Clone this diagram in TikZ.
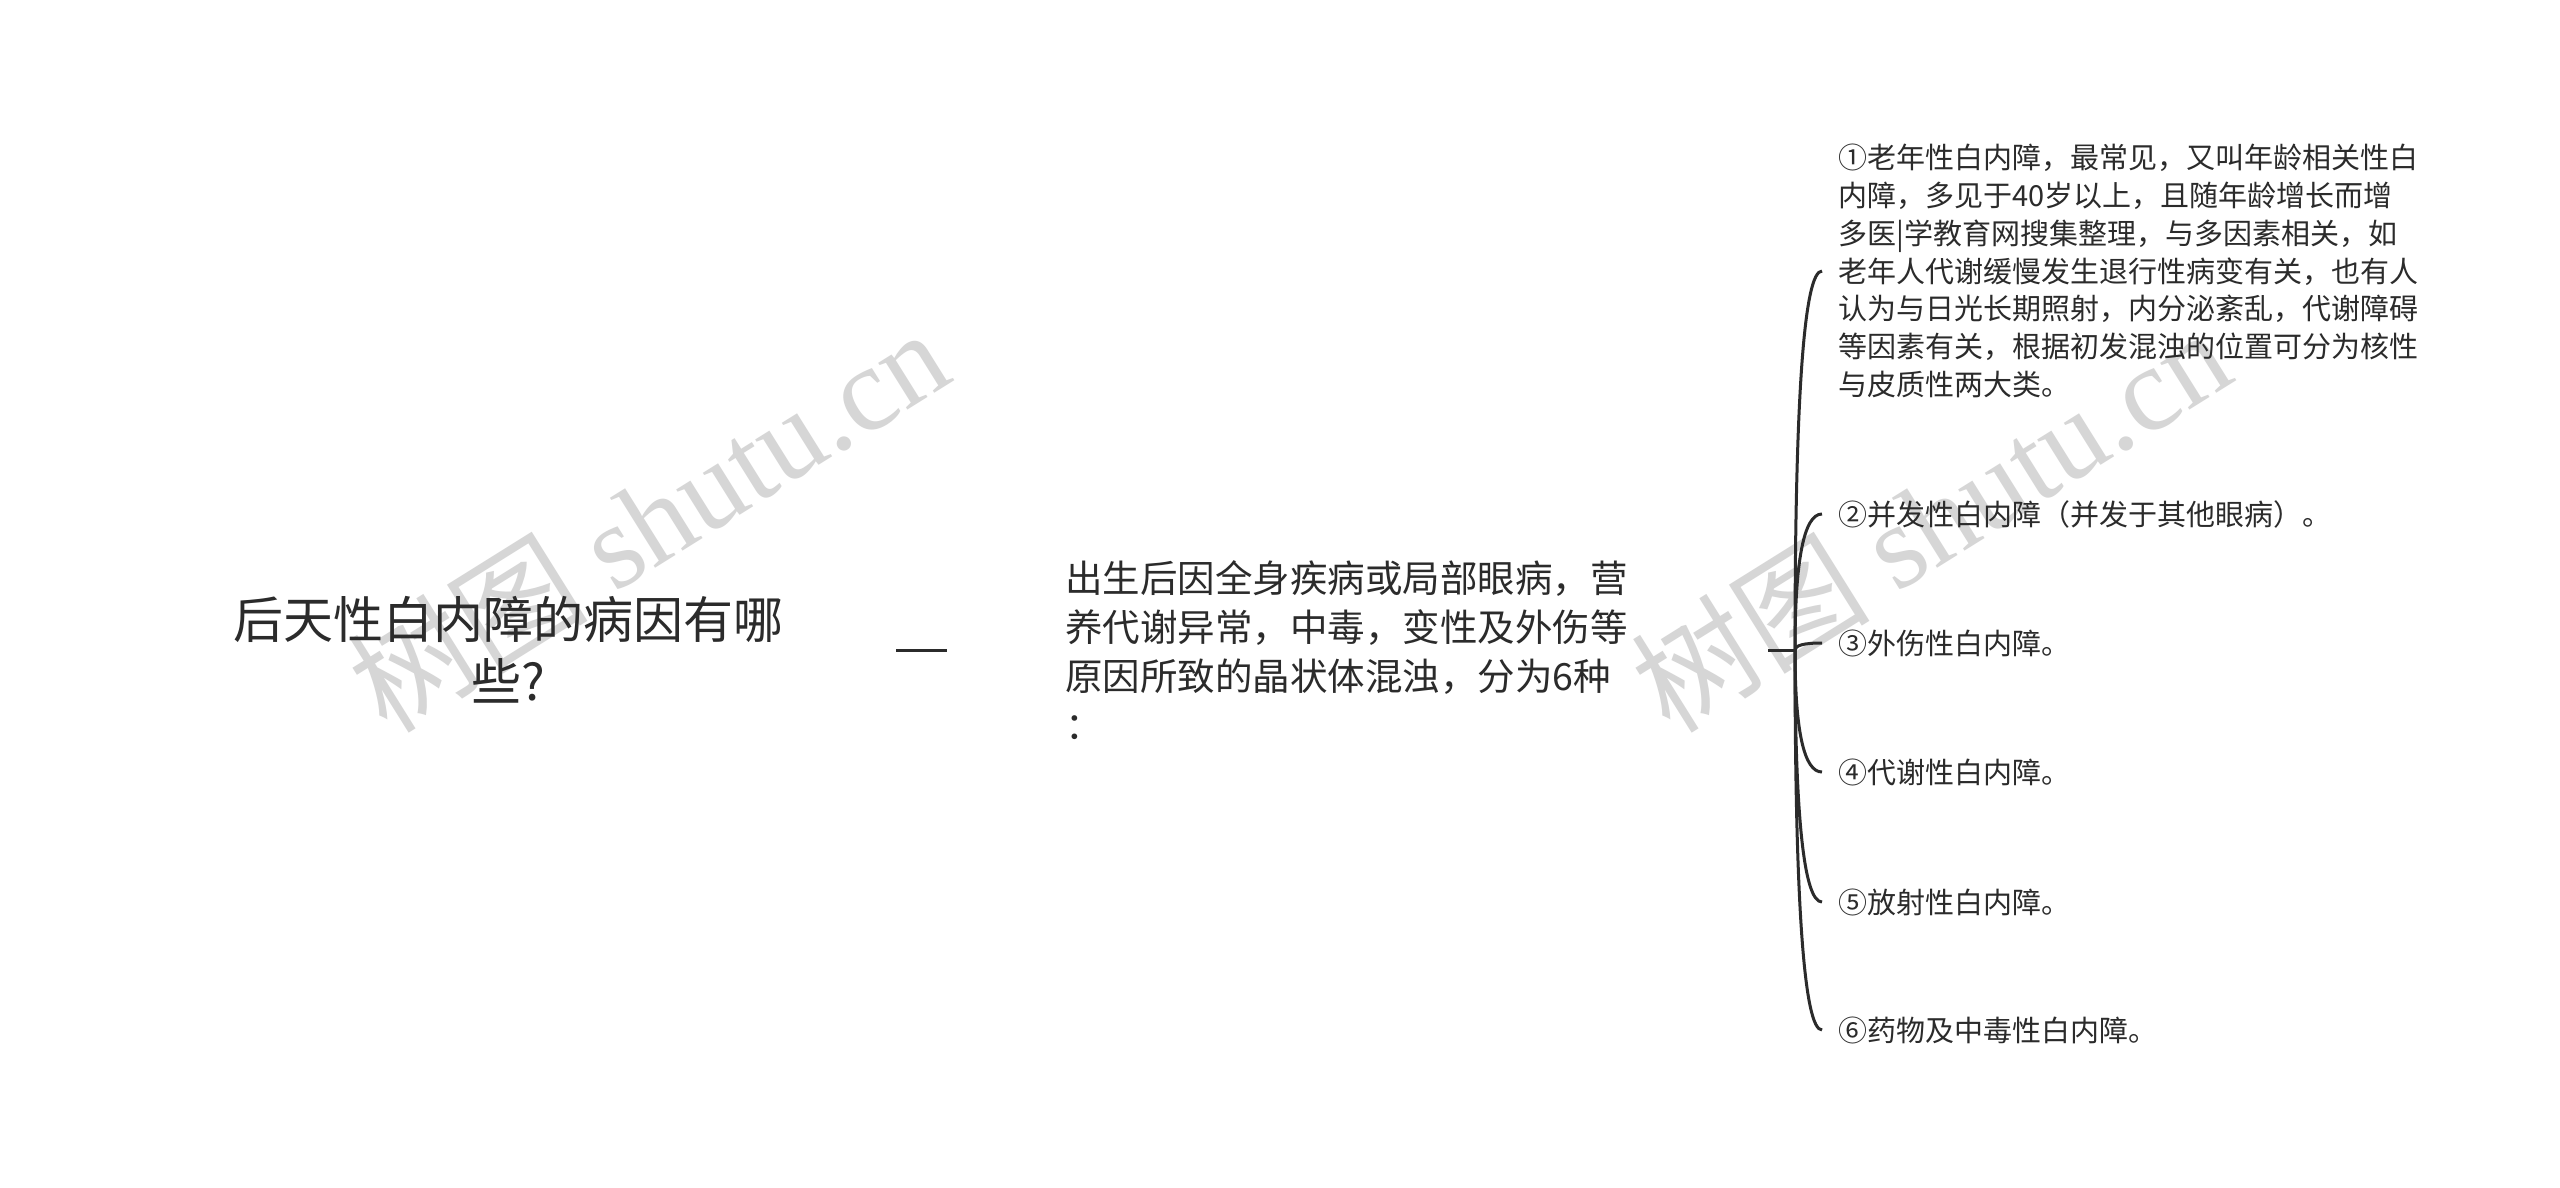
\documentclass[tikz,border=0pt]{standalone}
\usepackage{fontspec}
\usetikzlibrary{calc}
\setmainfont{Noto Sans CJK SC}
\newfontfamily\wmlatin{Liberation Serif}
\definecolor{ink}{HTML}{2B2B2B}
\definecolor{linec}{HTML}{2B2B2B}
\definecolor{wmgray}{HTML}{D6D6D6}
\tikzset{
  x=1pt, y=-1pt,
  rootnode/.style={align=center, inner xsep=113pt, inner ysep=0pt, text=ink, font=\fontsize{50}{62}\selectfont},
  midnode/.style={align=left, text width=585pt, inner xsep=118pt, inner ysep=0pt, text=ink, font=\fontsize{37.5}{49}\selectfont},
  leafnode/.style={align=left, anchor=west, inner xsep=16pt, inner ysep=0pt, text=ink, font=\fontsize{29}{37.8}\selectfont},
  link/.style={draw=linec, line width=3pt},
  wm/.style={text=wmgray, inner sep=0pt, rotate=32, font=\fontsize{120}{120}\selectfont}
}
\begin{document}
\begin{tikzpicture}
\useasboundingbox[fill=white] (0,0) rectangle (2560,1188);
% watermarks
\node[wm] (wm1) at (648,519) {树图 {\wmlatin shutu.cn}};
\node[wm] (wm2) at (1930,519) {树图 {\wmlatin shutu.cn}};
% nodes
\node[rootnode] (root) at (508,650) {后天性白内障的病因有哪\\些?};
\node[midnode, anchor=west] (mid) at (947,650) {出生后因全身疾病或局部眼病，营\\养代谢异常，中毒，变性及外伤等\\原因所致的晶状体混浊，分为6种\\：};
\node[leafnode] (l1) at (1822,271) {①老年性白内障，最常见，又叫年龄相关性白\\内障，多见于40岁以上，且随年龄增长而增\\多医|学教育网搜集整理，与多因素相关，如\\老年人代谢缓慢发生退行性病变有关，也有人\\认为与日光长期照射，内分泌紊乱，代谢障碍\\等因素有关，根据初发混浊的位置可分为核性\\与皮质性两大类。};
\node[leafnode] (l2) at (1822,514) {②并发性白内障（并发于其他眼病）。};
\node[leafnode] (l3) at (1822,643) {③外伤性白内障。};
\node[leafnode] (l4) at (1822,772) {④代谢性白内障。};
\node[leafnode] (l5) at (1822,902) {⑤放射性白内障。};
\node[leafnode] (l6) at (1822,1030) {⑥药物及中毒性白内障。};
% connectors
\coordinate (hub) at (1795,650);
\draw[link] (root.east) -- (mid.west);
\draw[link] (mid.east) -- (hub);
\foreach \l in {l1,l2,l3,l4,l5,l6}{
  \draw[link] (hub) .. controls ($(hub)!0.6667!(hub |- \l.west)$) and ($(\l.west)!0.6667!(hub |- \l.west)$) .. (\l.west);
}
\end{tikzpicture}
\end{document}
